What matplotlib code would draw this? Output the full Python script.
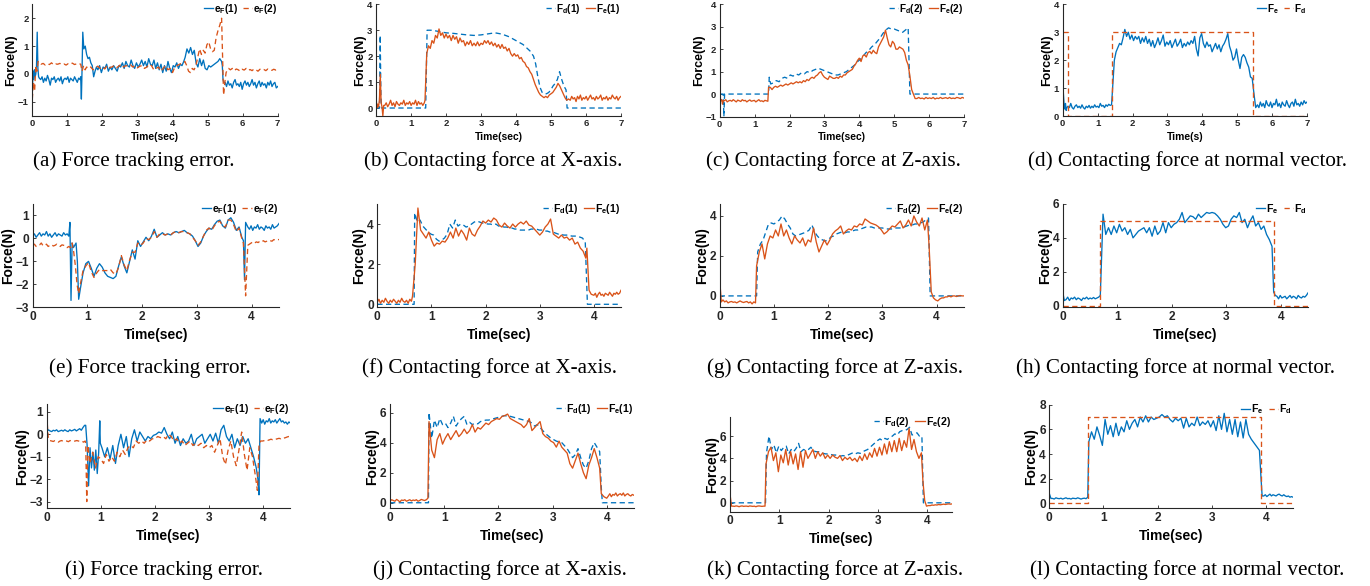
import numpy as np
import matplotlib
matplotlib.use('Agg')
import matplotlib.pyplot as plt

plt.rcParams['font.family'] = ['Liberation Sans', 'DejaVu Sans']
plt.rcParams['mathtext.fontset'] = 'custom'
plt.rcParams['mathtext.rm'] = 'Liberation Sans:bold'
plt.rcParams['mathtext.it'] = 'Liberation Sans:bold'
plt.rcParams['mathtext.bf'] = 'Liberation Sans:bold'

BLUE = '#0072BD'
ORANGE = '#D95319'

# ---------------- data: (t_start, t_end, values) segments ----------------
# (a) force tracking error, trial 1
a_ef1 = [
    (0.00, 0.20, [-0.7, 0.1, -0.2, 0.15, -0.1, 0.0, 0.3, 1.5, 0.2, -0.1, -0.15]),
    (0.24, 1.36, [-0.2, -0.1, -0.3, -0.15, -0.25, -0.05, -0.2, -0.4, -0.15, -0.2, -0.1, -0.3, -0.2, -0.15, -0.25,
                  -0.1, -0.35, -0.2, -0.15, -0.2, -0.1, -0.3, -0.15, -0.2, -0.25, -0.1, -0.2, -0.3, -0.15, -0.2]),
    (1.38, 1.44, [-0.1, -0.9, 0.2, 1.5]),
    (1.47, 1.83, [0.9, 1.0, 0.7, 0.55, 0.6, 0.4, 0.3, -0.1, 0.1, 0.25]),
    (1.87, 4.32, [0.15, 0.3, 0.05, 0.25, 0.2, 0.35, 0.1, 0.25, 0.15, 0.3,
                  0.2, 0.1, 0.3, 0.25, 0.4, 0.2, 0.45, 0.3, 0.25, 0.5,
                  0.3, 0.2, 0.4, 0.25, 0.35, 0.5, 0.3, 0.45, 0.25, 0.55,
                  0.35, 0.3, 0.5, 0.2, 0.4, 0.15, 0.35, 0.05, 0.3, 0.1,
                  0.45, 0.2, 0.05, 0.3, 0.25, 0.4, 0.2, 0.35, 0.3, 0.45]),
    (4.36, 5.40, [0.6, 0.9, 0.75, 0.95, 0.7, 0.85, 0.4, 0.25, 0.55, 0.3, 0.5, 0.2, 0.15, 0.3, 0.25, 0.3, 0.35,
                  0.4, 0.45, 0.55, 0.45]),
    (5.42, 5.46, [0.3, -0.2, -0.3]),
    (5.50, 7.00, [-0.3, -0.45, -0.25, -0.4, -0.35, -0.5, -0.3, -0.2, -0.4, -0.35, -0.45, -0.3, -0.55, -0.35,
                  -0.25, -0.4, -0.3, -0.45, -0.35, -0.2, -0.4, -0.3, -0.5, -0.35, -0.25, -0.45, -0.3, -0.4,
                  -0.35, -0.5, -0.3, -0.4, -0.25, -0.45, -0.35, -0.3, -0.5, -0.45]),
]
a_ef2 = [
    (0.00, 0.20, [-0.9, -0.3, -0.6, 0.3, 0.1, 0.45, 0.4]),
    (0.25, 1.38, [0.35, 0.38, 0.32, 0.36, 0.34, 0.4, 0.33, 0.36, 0.35, 0.38, 0.34, 0.36, 0.32, 0.37, 0.35,
                  0.39, 0.34, 0.36, 0.38, 0.35]),
    (1.42, 1.55, [0.1, 0.3, 0.15, 0.25]),
    (1.60, 4.20, [0.2, 0.25, 0.15, 0.22, 0.28, 0.2, 0.25, 0.18, 0.3, 0.22,
                  0.25, 0.3, 0.22, 0.28, 0.35, 0.25, 0.3, 0.28, 0.33, 0.25,
                  0.3, 0.22, 0.28, 0.3, 0.2, 0.25, 0.35, 0.3, 0.15, 0.2,
                  0.25, 0.1, 0.2, 0.3, 0.15, 0.2, 0.05, 0.25, 0.3, 0.35]),
    (4.30, 5.40, [0.4, 0.45, 0.3, 0.1, 0.05, 0.2, 0.15, 0.3, 0.6, 0.9, 0.7, 0.85, 0.75, 1.05, 1.15, 0.9, 0.8,
                  0.85, 1.3, 1.55, 1.75, 2.0]),
    (5.42, 5.60, [1.0, -0.75, -0.3, 0.05, 0.15, 0.2]),
    (5.65, 7.00, [0.15, 0.2, 0.12, 0.18, 0.15, 0.1, 0.17, 0.14, 0.2, 0.13, 0.16, 0.12, 0.18, 0.15, 0.1, 0.17,
                  0.14, 0.16, 0.12, 0.18, 0.15, 0.13, 0.17, 0.14, 0.15]),
]

# (b) contact force X-axis, trial 1
b_fd1 = [
    (0.00, 0.16, [0, 0, 0, 0, 0, 0, 2.8, 0.5, 0]),
    (0.20, 1.42, [0, 0]),
    (1.46, 1.46, [3.0]),
    (1.60, 4.40, [3.0, 2.95, 2.9, 2.88, 2.85, 2.82, 2.8, 2.82, 2.86, 2.9, 2.85, 2.75, 2.6, 2.45, 2.2]),
    (4.50, 5.43, [2.0, 1.7, 1.2, 0.8, 0.6, 0.55, 0.55, 0.6, 0.7, 0.85, 0.95, 1.1, 1.4, 1.1, 0.85, 0.7]),
    (5.46, 7.00, [0.0, 0.0]),
]
b_fe1 = [
    (0.00, 0.22, [0.45, 0.0, 0.15, 0.05, 0.3, 1.3, 0.2, 0.05, -0.3, 0.1]),
    (0.25, 1.38, [0.1, 0.2, 0.05, 0.15, 0.3, 0.1, 0.2, 0.05, 0.25, 0.15, 0.1, 0.2, 0.15, 0.3, 0.1, 0.2, 0.15,
                  0.25, 0.1, 0.2, 0.15, 0.3, 0.1, 0.25, 0.15, 0.2, 0.1, 0.2]),
    (1.40, 5.50, [0.3, 2.1, 2.4, 2.3, 2.6, 2.5, 2.8, 2.7, 3.05, 2.8, 2.9, 2.7, 2.85, 2.7, 2.8, 2.6, 2.8, 2.65,
                  2.75, 2.5, 2.7, 2.55, 2.6, 2.4, 2.55, 2.45, 2.6, 2.4, 2.5, 2.4, 2.55, 2.4, 2.5, 2.45, 2.6,
                  2.5, 2.6, 2.45, 2.55, 2.4, 2.5, 2.35, 2.45, 2.3, 2.45, 2.3, 2.35, 2.2, 2.3, 2.1, 2.0, 2.1,
                  2.0, 2.05, 1.9, 1.95, 1.8, 1.75, 1.6, 1.55, 1.4, 1.3, 1.1, 0.9, 0.75, 0.6, 0.5, 0.45, 0.4,
                  0.45, 0.4, 0.5, 0.55, 0.6, 0.7, 0.8, 0.95, 0.85, 0.7, 0.55, 0.4, 0.3, 0.35]),
    (5.55, 7.00, [0.3, 0.45, 0.35, 0.4, 0.25, 0.45, 0.35, 0.5, 0.3, 0.4, 0.35, 0.45, 0.3, 0.4, 0.5, 0.35, 0.4,
                  0.3, 0.45, 0.35, 0.4, 0.5, 0.3, 0.4, 0.35, 0.45, 0.3, 0.4, 0.35, 0.5, 0.4, 0.35, 0.45, 0.3,
                  0.4, 0.45]),
]

# (c) contact force Z-axis, trial 1
c_fd2 = [
    (0.00, 0.16, [0, 0, 0, 0, 0, 0, -1.0, 0, 0]),
    (0.20, 1.40, [0, 0]),
    (1.42, 1.42, [0.75]),
    (1.46, 5.40, [0.45, 0.5, 0.6, 0.55, 0.7, 0.75, 0.7, 0.85, 0.8, 0.9, 0.85, 0.95, 0.9, 1.0, 0.95, 1.05, 1.1,
                  1.15, 1.1, 1.05, 1.0, 0.95, 0.9, 0.85, 0.85, 0.9, 0.95, 1.0, 1.1, 1.2, 1.3, 1.45, 1.55, 1.7,
                  1.85, 1.95, 2.1, 2.2, 2.35, 2.5, 2.7, 2.85, 2.95, 2.9, 2.9, 2.85, 2.8, 2.75, 2.85, 2.95]),
    (5.45, 7.00, [0, 0]),
]
c_fe2 = [
    (0.00, 0.10, [0.75, -0.2, -0.3, -0.25, -0.45, -0.3]),
    (0.13, 1.38, [-0.3, -0.25, -0.35, -0.3, -0.28, -0.32, -0.25, -0.3, -0.35, -0.27, -0.3, -0.33, -0.25, -0.3,
                  -0.28, -0.35, -0.3, -0.26, -0.32, -0.3, -0.28, -0.35, -0.3, -0.25, -0.32, -0.3, -0.34,
                  -0.28, -0.3, -0.32]),
    (1.40, 5.60, [0.3, 0.3, 0.2, 0.3, 0.35, 0.3, 0.35, 0.4, 0.35, 0.4, 0.45, 0.4, 0.45, 0.5, 0.45, 0.5, 0.55,
                  0.5, 0.55, 0.5, 0.6, 0.55, 0.65, 0.6, 0.7, 0.75, 0.7, 0.8, 0.85, 0.95, 1.0, 0.85, 0.75, 0.7,
                  0.65, 0.8, 0.75, 0.7, 0.7, 0.75, 0.7, 0.8, 0.75, 0.85, 0.85, 0.95, 1.0, 1.05, 1.1, 1.25,
                  1.35, 1.5, 1.6, 1.45, 1.7, 1.75, 1.65, 1.85, 1.9, 1.8, 1.95, 1.85, 1.8, 2.1, 2.25, 2.4,
                  2.55, 2.85, 2.5, 2.2, 2.1, 2.35, 2.25, 2.0, 2.0, 2.1, 2.05, 2.0, 1.85, 1.5, 1.3, 0.8, 0.2,
                  0.0, -0.2]),
    (5.65, 7.00, [-0.2, -0.15, -0.2, -0.18, -0.22, -0.15, -0.2, -0.17, -0.2, -0.15, -0.22, -0.18, -0.2,
                  -0.15, -0.2, -0.18, -0.16, -0.2, -0.15, -0.2, -0.18, -0.2, -0.15, -0.17, -0.2, -0.15,
                  -0.18]),
]

# (d) contact force normal vector, trial 1
d_fe = [
    (0.00, 0.12, [1.2, 0.8, 0.4, 0.25, 0.45, 0.2, 0.3]),
    (0.15, 1.40, [0.35, 0.3, 0.45, 0.3, 0.25, 0.35, 0.4, 0.3, 0.35, 0.28, 0.4, 0.3, 0.25, 0.35, 0.3, 0.38,
                  0.28, 0.35, 0.3, 0.4, 0.32, 0.35, 0.3, 0.45, 0.35, 0.38, 0.3, 0.4, 0.35, 0.42, 0.38, 0.4]),
    (1.43, 5.53, [1.0, 2.0, 2.3, 2.45, 2.6, 2.55, 2.8, 3.1, 2.85, 3.0, 2.75, 2.9, 2.7, 2.85, 2.75, 2.85, 2.6,
                  2.8, 2.65, 2.85, 2.6, 2.75, 2.5, 2.7, 2.45, 2.6, 2.8, 2.55, 2.7, 2.9, 2.5, 2.65, 2.55, 2.7,
                  2.45, 2.6, 2.75, 2.5, 2.6, 2.75, 2.45, 2.6, 2.5, 2.65, 2.55, 2.7, 2.6, 2.85, 2.4, 2.15,
                  2.8, 2.95, 2.6, 2.45, 2.65, 2.5, 2.55, 2.3, 2.45, 2.6, 2.4, 2.55, 2.3, 2.5, 2.6, 2.75,
                  2.95, 2.5, 2.3, 2.0, 2.1, 2.4, 2.0, 1.7, 2.1, 2.2, 2.1, 1.9, 1.75, 1.4, 1.35, 0.8, 0.3]),
    (5.58, 7.00, [0.4, 0.3, 0.5, 0.35, 0.45, 0.3, 0.55, 0.4, 0.35, 0.5, 0.3, 0.45, 0.4, 0.6, 0.35, 0.45, 0.3,
                  0.5, 0.4, 0.35, 0.55, 0.4, 0.3, 0.45, 0.5, 0.35, 0.6, 0.4, 0.45, 0.35, 0.5, 0.4, 0.55, 0.45,
                  0.5]),
]
d_fd = [(0.00, 0.14, [3, 3]), (0.14, 1.42, [0, 0]), (1.42, 5.45, [3, 3]), (5.45, 7.00, [0, 0])]

# (e) force tracking error, trial 2
e_ef1 = [
    (0.00, 0.66, [0.1, 0.2, 0.05, 0.15, 0.25, 0.1, 0.2, 0.15, 0.3, 0.1, 0.2, 0.05, 0.15, 0.25, 0.1, 0.2, 0.15,
                  0.1, 0.25, 0.15, 0.2, 0.1]),
    (0.68, 0.70, [0.7, -2.7]),
    (0.72, 0.84, [-0.2, -0.4, -0.3, -0.2, -1.0, -2.65]),
    (0.87, 3.82, [-2.2, -1.5, -1.1, -1.0, -1.3, -1.65, -1.3, -1.1, -1.25, -1.5, -1.65, -1.7, -1.75, -1.65,
                  -1.2, -0.8, -1.2, -1.5, -1.0, -0.5, -0.9, -0.1, -0.35, -0.15, 0.05, -0.1, 0.1, 0.4, 0.05,
                  0.15, 0.25, 0.15, 0.2, 0.15, 0.25, 0.3, 0.25, 0.3, 0.35, 0.25, 0.2, 0.1, -0.1, -0.35, -0.2,
                  0.1, 0.3, 0.45, 0.4, 0.6, 0.75, 0.8, 0.55, 0.45, 0.8, 0.9, 0.7, 0.35, 0.5, 0.05]),
    (3.85, 3.89, [-0.1, -1.8, 0.7]),
    (3.93, 4.50, [0.5, 0.4, 0.55, 0.35, 0.5, 0.45, 0.6, 0.4, 0.5, 0.45, 0.35, 0.55, 0.45, 0.5, 0.4, 0.6, 0.45,
                  0.5, 0.55, 0.65]),
]
e_ef2 = [
    (0.00, 0.66, [-0.3, -0.25, -0.35, -0.3, -0.28, -0.2, -0.32, -0.3, -0.25, -0.35, -0.3, -0.27, -0.33, -0.3,
                  -0.25, -0.3, -0.35, -0.28, -0.3, -0.32, -0.4, -0.35]),
    (0.69, 0.87, [-0.4, -0.2, -0.6, -1.2, -2.0, -2.4, -2.0]),
    (0.92, 3.82, [-1.4, -1.2, -1.05, -1.45, -1.7, -1.5, -1.35, -1.4, -1.4, -1.4, -1.35, -1.5, -1.55, -1.25,
                  -0.75, -1.15, -1.4, -0.95, -0.6, -0.6, -0.2, -0.3, -0.2, 0.0, -0.05, 0.05, 0.3, 0.05, 0.2,
                  0.2, 0.15, 0.2, 0.15, 0.25, 0.3, 0.25, 0.3, 0.3, 0.25, 0.2, 0.05, -0.1, -0.3, -0.15, 0.1,
                  0.35, 0.45, 0.35, 0.55, 0.7, 0.75, 0.55, 0.5, 0.8, 0.8, 0.6, 0.3, 0.45, 0.0]),
    (3.85, 3.93, [-0.2, -2.5, -0.3]),
    (3.96, 4.50, [-0.25, -0.2, -0.15, -0.2, -0.15, -0.18, -0.12, -0.15, -0.1, -0.15, -0.12, -0.08, -0.1,
                  -0.12, -0.05, -0.08, -0.05, -0.05]),
]

# (f) contact force X-axis, trial 2
f_fd1 = [
    (0.00, 0.68, [0, 0]),
    (0.69, 3.84, [4.55, 4.1, 4.2, 3.9, 3.75, 3.6, 3.5, 3.45, 3.25, 3.15, 3.2, 3.3, 3.5, 4.0, 3.8, 4.2, 3.9, 4.0,
                  3.95, 3.85, 3.9, 4.0, 4.1, 4.15, 4.1, 4.05, 4.05, 4.0, 4.0, 3.95, 4.0, 3.9, 3.9, 3.85, 3.85,
                  3.8, 3.8, 3.75, 3.75, 3.7, 3.7, 3.7, 3.7, 3.75, 3.75, 3.75, 3.7, 3.7, 3.65, 3.65, 3.6, 3.6,
                  3.55, 3.5, 3.5, 3.45, 3.45, 3.45, 3.4, 3.4, 3.4, 3.35, 3.3, 3.1]),
    (3.88, 4.50, [0, 0]),
]
f_fe1 = [
    (0.00, 0.63, [0.1, 0.25, 0.05, 0.2, 0.1, 0.3, 0.15, 0.05, 0.2, 0.1, 0.25, 0.15, 0.05, 0.2, 0.1, 0.3, 0.15,
                  0.1, 0.2, 0.05, 0.25, 0.15]),
    (0.65, 3.85, [0.4, 2.0, 4.8, 3.7, 3.5, 3.3, 3.6, 3.2, 2.9, 3.05, 3.0, 3.15, 3.1, 3.3, 3.6, 3.3, 3.8, 3.4,
                  3.7, 3.5, 3.2, 3.8, 3.5, 3.4, 3.7, 3.9, 4.15, 4.05, 4.2, 4.1, 4.3, 4.2, 3.95, 3.85, 4.05,
                  3.9, 3.8, 4.0, 3.85, 4.0, 4.1, 4.0, 4.15, 3.95, 3.9, 3.75, 3.6, 3.45, 3.6, 3.85, 4.0, 4.25,
                  3.5, 3.4, 3.3, 3.45, 3.3, 3.35, 3.2, 3.3, 3.0, 3.1, 2.8, 2.65, 2.3]),
    (3.87, 3.95, [2.8, 0.7, 0.5]),
    (4.00, 4.50, [0.45, 0.55, 0.35, 0.5, 0.6, 0.45, 0.5, 0.4, 0.55, 0.5, 0.45, 0.6, 0.5, 0.4, 0.55, 0.5, 0.6,
                  0.5, 0.55, 0.7]),
]

# (g) contact force Z-axis, trial 2
g_fd2 = [
    (0.00, 0.68, [0, 0]),
    (0.70, 3.85, [2.2, 2.6, 2.8, 3.2, 3.6, 3.65, 3.6, 3.7, 3.8, 4.0, 3.85, 3.6, 3.4, 3.1, 3.0, 3.05, 3.1, 3.15,
                  3.2, 3.3, 3.55, 3.2, 3.0, 2.85, 2.8, 2.75, 2.8, 2.95, 3.0, 3.1, 3.15, 3.2, 3.15, 3.2, 3.2,
                  3.25, 3.3, 3.3, 3.35, 3.4, 3.45, 3.45, 3.45, 3.4, 3.4, 3.4, 3.4, 3.35, 3.35, 3.35, 3.35,
                  3.4, 3.4, 3.4, 3.45, 3.5, 3.55, 3.55, 3.6, 3.6, 3.65, 3.7, 3.8, 3.9]),
    (3.88, 4.50, [0, 0]),
]
g_fe2 = [
    (0.00, 0.03, [0.8, -0.3]),
    (0.06, 0.66, [-0.2, -0.3, -0.25, -0.35, -0.3, -0.28, -0.32, -0.3, -0.35, -0.3, -0.25, -0.3, -0.33, -0.3,
                  -0.28, -0.35, -0.3, -0.4, -0.3, -0.35]),
    (0.68, 3.83, [1.5, 2.2, 2.6, 1.85, 2.6, 3.0, 2.9, 3.3, 3.0, 3.6, 3.0, 3.3, 2.9, 2.6, 3.0, 2.8, 2.65, 2.9,
                  2.5, 2.8, 2.7, 3.4, 2.7, 2.2, 2.5, 2.8, 2.55, 2.8, 3.1, 3.25, 3.35, 3.5, 3.1, 3.25, 3.35,
                  3.3, 3.5, 3.45, 3.6, 3.55, 3.85, 3.75, 3.65, 3.6, 3.55, 3.45, 3.3, 3.1, 3.2, 3.35, 3.5,
                  3.45, 3.6, 3.75, 3.4, 3.55, 3.8, 3.5, 4.0, 3.7, 3.5, 3.9, 3.3, 3.8]),
    (3.86, 4.02, [2.5, 0.2, -0.1, -0.2, -0.25]),
    (4.06, 4.50, [-0.15, -0.1, -0.1, -0.05, -0.05, 0.0, -0.05, 0.0, 0.0, -0.03, 0.0, 0.02, 0.0, 0.0]),
]

# (h) contact force normal vector, trial 2
h_fe = [
    (0.00, 0.03, [0.8, 0.3]),
    (0.06, 0.66, [0.35, 0.5, 0.3, 0.45, 0.4, 0.5, 0.35, 0.45, 0.4, 0.3, 0.45, 0.4, 0.5, 0.38, 0.45, 0.4, 0.48,
                  0.4, 0.45, 0.5]),
    (0.69, 3.84, [0.6, 5.4, 4.2, 4.6, 4.2, 4.7, 4.3, 4.8, 4.4, 4.6, 4.2, 4.5, 4.0, 4.2, 4.4, 4.5, 4.6, 4.3,
                  4.6, 4.1, 4.7, 4.2, 4.4, 4.9, 4.3, 4.9, 4.6, 4.8, 4.9, 5.1, 5.5, 4.9, 5.1, 5.3, 5.25, 5.1,
                  5.4, 5.2, 5.35, 5.5, 5.45, 5.5, 5.45, 5.3, 5.1, 4.8, 4.6, 4.7, 5.1, 5.3, 5.2, 5.5, 4.9,
                  5.1, 4.6, 5.0, 5.3, 4.7, 4.9, 4.5, 4.7, 4.2, 3.9, 3.5]),
    (3.87, 3.90, [0.8, 0.6]),
    (3.93, 4.50, [0.55, 0.4, 0.6, 0.45, 0.5, 0.55, 0.4, 0.5, 0.6, 0.45, 0.55, 0.5, 0.4, 0.6, 0.5, 0.45, 0.55,
                  0.5, 0.6, 0.75]),
]
h_fd = [(0.00, 0.68, [0, 0]), (0.68, 3.88, [5, 5]), (3.88, 4.50, [0, 0])]

# (i) force tracking error, trial 3
i_ef1 = [
    (0.00, 0.70, [0.1, 0.2, 0.15, 0.12, 0.18, 0.15, 0.2, 0.12, 0.15, 0.18, 0.14, 0.2, 0.15, 0.12, 0.2, 0.15,
                  0.18, 0.22, 0.15, 0.2, 0.25, 0.18, 0.3, 0.4]),
    (0.72, 0.96, [0.4, -0.5, -2.3, -0.6, -1.5, -0.8, -1.6, -0.7, -1.75, -0.8]),
    (0.98, 0.99, [0.6, -0.4]),
    (1.02, 3.87, [-0.6, -1.0, -0.6, -1.1, -0.5, -1.3, -0.5, 0.0, -0.6, -0.1, -1.0, -0.2, 0.2, -0.3, 0.1, -0.1,
                  -0.3, -0.1, -0.2, -0.05, 0.0, 0.1, 0.05, 0.3, 0.0, -0.2, 0.1, -0.4, -0.1, -0.5, -0.2, -0.4,
                  -0.3, 0.0, -0.5, -0.2, -0.1, 0.0, -0.4, -0.2, 0.0, -0.3, 0.05, -0.4, 0.2, 0.4, -0.1, -0.3,
                  0.0, -0.6, -0.2, -0.5, -0.1, -0.4, -0.2, -0.6, -1.0, -1.5]),
    (3.90, 3.94, [-2.0, -2.7, 0.7]),
    (3.97, 4.50, [0.5, 0.65, 0.45, 0.6, 0.55, 0.7, 0.5, 0.6, 0.55, 0.65, 0.5, 0.6, 0.7, 0.55, 0.6, 0.5, 0.55,
                  0.45, 0.55, 0.5]),
]
i_ef2 = [
    (0.00, 0.03, [0.85, -0.2]),
    (0.06, 0.71, [-0.28, -0.3, -0.32, -0.28, -0.3, -0.35, -0.3, -0.28, -0.32, -0.3, -0.3, -0.33, -0.28, -0.3,
                  -0.32, -0.3, -0.28, -0.3, -0.32, -0.3, -0.35, -0.3]),
    (0.72, 0.76, [-0.4, -3.0, -0.5]),
    (0.80, 3.85, [-1.3, -0.8, -1.5, -1.0, -1.1, -1.3, -0.9, -1.2, -1.0, -1.2, -0.8, -1.0, -0.7, -0.9, -0.6,
                  -0.5, -0.6, -0.3, -0.4, -0.3, -0.4, -0.25, -0.3, -0.2, -0.2, -0.1, -0.15, -0.1, -0.2, 0.0,
                  -0.1, -0.3, -0.2, -0.4, -0.3, -0.5, -0.4, -0.3, -0.5, -0.4, -0.5, -0.4, -0.6, -0.5, -0.6,
                  -0.5, -0.8, -0.5, -0.2, -1.0, -1.35, -0.7, -0.3, -1.0, -1.4, -0.7, 0.1, -0.9, -1.6, -0.6,
                  -1.0, -1.8]),
    (3.89, 3.95, [-2.5, -0.5, -0.3]),
    (3.99, 4.50, [-0.3, -0.28, -0.25, -0.27, -0.25, -0.22, -0.24, -0.2, -0.22, -0.2, -0.18, -0.2, -0.15,
                  -0.17, -0.15, -0.12, -0.1, -0.1]),
]

# (j) contact force X-axis, trial 3
j_fd1 = [
    (0.00, 0.71, [0, 0]),
    (0.72, 3.87, [6.0, 4.3, 5.5, 5.0, 5.6, 5.2, 5.3, 5.0, 5.3, 5.75, 5.1, 5.4, 5.6, 5.75, 5.2, 5.35, 5.2, 5.3,
                  5.25, 5.4, 5.45, 5.5, 5.5, 5.55, 5.6, 5.65, 5.7, 5.75, 5.8, 5.75, 5.75, 5.7, 5.65, 5.6,
                  5.55, 5.5, 5.45, 5.4, 5.3, 5.1, 5.2, 5.0, 4.8, 4.6, 4.45, 4.3, 4.2, 4.1, 4.05, 4.0, 3.8,
                  3.6, 3.3, 3.0, 3.2, 3.6, 3.0, 2.5, 2.3, 2.8, 3.6, 4.0, 3.7, 3.4]),
    (3.90, 3.92, [1.0, 0.0]),
    (3.95, 4.50, [0, 0]),
]
j_fe1 = [
    (0.00, 0.70, [0.1, 0.2, 0.15, 0.1, 0.22, 0.15, 0.05, 0.18, 0.15, 0.2, 0.1, 0.15, 0.2, 0.12, 0.18, 0.15,
                  0.2, 0.1, 0.15, 0.22, 0.18, 0.15, 0.2, 0.3]),
    (0.72, 3.87, [5.4, 3.5, 3.0, 4.2, 4.6, 3.9, 4.3, 4.6, 4.2, 4.5, 4.8, 4.4, 4.6, 4.9, 4.6, 4.8, 5.2, 4.7,
                  5.0, 4.9, 5.1, 5.3, 5.2, 5.4, 5.5, 5.6, 5.55, 5.75, 5.8, 5.9, 5.6, 5.5, 5.4, 5.3, 5.2,
                  5.0, 5.2, 5.6, 4.8, 5.0, 5.2, 5.4, 4.6, 4.4, 4.3, 4.1, 4.0, 3.7, 4.1, 3.7, 3.5, 3.3, 2.6,
                  2.3, 2.8, 3.3, 2.6, 2.0, 1.6, 2.5, 3.0, 3.6, 3.0, 2.3]),
    (3.90, 4.00, [0.6, 0.4, 0.3]),
    (4.03, 4.50, [0.45, 0.6, 0.4, 0.55, 0.5, 0.65, 0.45, 0.55, 0.6, 0.5, 0.65, 0.45, 0.55, 0.6, 0.5, 0.45,
                  0.55, 0.5]),
]

# (k) contact force Z-axis, trial 3
k_fd2 = [
    (0.00, 0.72, [0, 0]),
    (0.74, 3.89, [4.5, 6.0, 4.8, 5.2, 4.5, 5.1, 4.7, 5.0, 5.1, 4.4, 4.8, 4.6, 4.9, 5.35, 4.6, 4.8, 4.7, 4.8,
                  5.0, 4.7, 4.6, 4.6, 4.5, 4.45, 4.4, 4.4, 4.35, 4.3, 4.3, 4.25, 4.2, 4.25, 4.2, 4.3, 4.4,
                  4.5, 4.4, 4.5, 4.45, 4.6, 4.7, 4.8, 5.0, 5.2, 5.4, 5.6, 5.75, 5.6, 5.8, 5.7, 5.9, 6.0, 6.2,
                  6.1, 6.4, 6.5, 6.5, 6.6, 6.8, 6.1, 6.2, 6.3, 6.0, 6.0]),
    (3.92, 4.50, [0, 0]),
]
k_fe2 = [
    (0.00, 0.03, [0.8, -0.3]),
    (0.06, 0.71, [-0.3, -0.32, -0.28, -0.3, -0.35, -0.3, -0.28, -0.32, -0.3, -0.3, -0.33, -0.28, -0.3, -0.32,
                  -0.3, -0.35, -0.3, -0.28, -0.3, -0.32, -0.3, -0.3]),
    (0.73, 3.88, [3.5, 4.6, 5.0, 3.8, 4.5, 2.8, 4.3, 3.6, 4.8, 3.4, 4.6, 3.5, 4.4, 3.0, 4.6, 3.2, 4.7, 4.0,
                  4.4, 4.8, 4.0, 4.6, 4.2, 4.5, 4.0, 4.3, 4.0, 4.3, 4.1, 4.0, 4.25, 3.8, 4.1, 3.9, 4.1, 3.8,
                  4.0, 3.7, 4.2, 3.8, 4.4, 3.9, 4.5, 4.1, 4.9, 4.2, 5.0, 4.3, 5.3, 4.4, 5.5, 4.6, 5.6, 4.6,
                  5.8, 4.7, 5.6, 5.0, 6.7, 4.8, 5.7, 4.6, 4.0, 4.5]),
    (3.91, 4.02, [2.0, 0.2, -0.3, -0.25]),
    (4.06, 4.50, [-0.25, -0.2, -0.22, -0.18, -0.2, -0.15, -0.18, -0.15, -0.12, -0.15, -0.12, -0.1, -0.12,
                  -0.1]),
]

# (l) contact force normal vector, trial 3
l_fe = [
    (0.00, 0.03, [0.8, 0.4]),
    (0.06, 0.71, [0.4, 0.35, 0.45, 0.4, 0.38, 0.42, 0.35, 0.4, 0.45, 0.38, 0.4, 0.35, 0.42, 0.4, 0.38, 0.45,
                  0.4, 0.35, 0.4, 0.42, 0.38, 0.5]),
    (0.73, 3.88, [5.0, 5.8, 5.2, 6.2, 5.5, 4.7, 6.8, 5.6, 6.3, 5.4, 6.5, 5.5, 6.2, 5.8, 6.7, 6.0, 6.5, 6.8,
                  6.2, 7.0, 6.6, 7.1, 6.6, 7.0, 6.8, 6.9, 7.0, 7.2, 7.0, 7.1, 6.8, 6.6, 6.9, 6.7, 6.9, 6.1,
                  6.9, 6.2, 6.5, 6.3, 7.0, 6.3, 6.6, 6.4, 6.7, 6.2, 6.7, 5.9, 7.1, 6.0, 7.3, 5.8, 6.8, 5.6,
                  6.8, 5.4, 6.6, 5.3, 6.8, 5.6, 5.2, 4.9, 4.6, 4.3]),
    (3.91, 3.93, [2.0, 0.6]),
    (3.96, 4.50, [0.6, 0.7, 0.55, 0.65, 0.75, 0.6, 0.7, 0.65, 0.6, 0.7, 0.75, 0.65, 0.6, 0.7, 0.6, 0.55, 0.6,
                  0.5, 0.55, 0.5]),
]
l_fd = [(0.00, 0.72, [0, 0]), (0.72, 3.90, [7, 7]), (3.90, 4.50, [0, 0])]

# labels
LBL_EF1 = r'e$_\mathrm{F}$(1)'
LBL_EF2 = r'e$_\mathrm{F}$(2)'
LBL_FD1 = r'F$_\mathrm{d}$(1)'
LBL_FE1 = r'F$_\mathrm{e}$(1)'
LBL_FD2 = r'F$_\mathrm{d}$(2)'
LBL_FE2 = r'F$_\mathrm{e}$(2)'
LBL_FE = r'F$_\mathrm{e}$'
LBL_FD = r'F$_\mathrm{d}$'

captions = ['(a) Force tracking error.', '(b) Contacting force at X-axis.', '(c) Contacting force at Z-axis.',
            '(d) Contacting force at normal vector.',
            '(e) Force tracking error.', '(f) Contacting force at X-axis.', '(g) Contacting force at Z-axis.',
            '(h) Contacting force at normal vector.',
            '(i) Force tracking error.', '(j) Contacting force at X-axis.', '(k) Contacting force at Z-axis.',
            '(l) Contacting force at normal vector.']
caption_x = [134, 493, 833, 1187, 150, 489, 835, 1176, 164, 500, 835, 1187]
caption_y = [161, 161, 161, 161, 368, 368, 368, 368, 570, 570, 570, 570]


def series(segs):
    t = np.concatenate([np.linspace(a, b, len(v)) for a, b, v in segs])
    y = np.concatenate([np.asarray(v, float) for a, b, v in segs])
    return t, y


W, H = 1370, 586
fig = plt.figure(figsize=(W / 100, H / 100), dpi=100)

# pixel boxes: x0, x1, ytop, ybottom
boxes = [(32.3, 277.7, 4.3, 115.8), (376, 621, 4.3, 115.8), (719.7, 964, 4.3, 116.5), (1062.7, 1307, 4.3, 116),
         (32.7, 279, 204, 307.3), (377.3, 621, 204, 307.3), (719.7, 963.8, 204, 307.3), (1062.7, 1308, 204, 307.3),
         (46.7, 290.4, 404, 508.3), (390, 633.8, 404, 508.3), (730, 952, 416.7, 511.7), (1049.3, 1293, 404.7, 508.3)]

panels = [
    ([(a_ef1, BLUE, '-', LBL_EF1), (a_ef2, ORANGE, '--', LBL_EF2)], 7, (-1.5, 2.5), [-1, 0, 1, 2], 'Time(sec)'),
    ([(b_fd1, BLUE, '--', LBL_FD1), (b_fe1, ORANGE, '-', LBL_FE1)], 7, (-0.3, 4), [0, 1, 2, 3, 4], 'Time(sec)'),
    ([(c_fd2, BLUE, '--', LBL_FD2), (c_fe2, ORANGE, '-', LBL_FE2)], 7, (-1, 4), [-1, 0, 1, 2, 3, 4], 'Time(sec)'),
    ([(d_fe, BLUE, '-', LBL_FE), (d_fd, ORANGE, '--', LBL_FD)], 7, (0, 4), [0, 1, 2, 3, 4], 'Time(s)'),
    ([(e_ef1, BLUE, '-', LBL_EF1), (e_ef2, ORANGE, '--', LBL_EF2)], 4.5, (-3, 1.5), [-3, -2, -1, 0, 1], 'Time(sec)'),
    ([(f_fd1, BLUE, '--', LBL_FD1), (f_fe1, ORANGE, '-', LBL_FE1)], 4.5, (-0.15, 5), [0, 2, 4], 'Time(sec)'),
    ([(g_fd2, BLUE, '--', LBL_FD2), (g_fe2, ORANGE, '-', LBL_FE2)], 4.5, (-0.57, 4.6), [0, 2, 4], 'Time(sec)'),
    ([(h_fe, BLUE, '-', LBL_FE), (h_fd, ORANGE, '--', LBL_FD)], 4.5, (-0.1, 6), [0, 2, 4, 6], 'Time(sec)'),
    ([(i_ef1, BLUE, '-', LBL_EF1), (i_ef2, ORANGE, '--', LBL_EF2)], 4.5, (-3.3, 1.35), [-3, -2, -1, 0, 1], 'Time(sec)'),
    ([(j_fd1, BLUE, '--', LBL_FD1), (j_fe1, ORANGE, '-', LBL_FE1)], 4.5, (-0.37, 6.57), [0, 2, 4, 6], 'Time(sec)'),
    ([(k_fd2, BLUE, '--', LBL_FD2), (k_fe2, ORANGE, '-', LBL_FE2)], 4.5, (-0.8, 7.75), [0, 2, 4, 6], 'Time(sec)'),
    ([(l_fe, BLUE, '-', LBL_FE), (l_fd, ORANGE, '--', LBL_FD)], 4.5, (-0.4, 8), [0, 2, 4, 6, 8], 'Time(sec)'),
]

for idx, (box, (lines, xmax, ylim, yticks, xlabel)) in enumerate(zip(boxes, panels)):
    x0, x1, yt, yb = box
    ax = fig.add_axes([x0 / W, 1 - yb / H, (x1 - x0) / W, (yb - yt) / H])
    row = idx // 4
    tick_fs = 6.8 if row == 0 else 8.6
    xlab_fs = 7.4 if row == 0 else 10
    ylab_fs = 9.0 if row == 0 else 10
    leg_fs = 7.2 if row == 0 else 7.6
    for segs, col, ls, lab in lines:
        t, y = series(segs)
        if ls == '--':
            ax.plot(t, y, color=col, lw=0.95, dashes=(4.0, 2.6), label=lab)
        else:
            ax.plot(t, y, color=col, lw=0.95, label=lab)
    ax.set_xlim(0, xmax)
    ax.set_ylim(*ylim)
    ax.set_xticks(range(0, int(xmax) + 1))
    ax.set_yticks(yticks)
    for s in ('top', 'right'):
        ax.spines[s].set_visible(False)
    for s in ('left', 'bottom'):
        ax.spines[s].set_color('#262626')
        ax.spines[s].set_linewidth(0.8)
    ax.tick_params(direction='in', length=2.5, width=0.6, colors='#262626', labelsize=tick_fs, pad=2.5)
    for lb in ax.get_xticklabels() + ax.get_yticklabels():
        lb.set_fontweight('bold')
    ax.set_xlabel(xlabel, fontsize=xlab_fs, fontweight='bold', labelpad=2.5 if row == 0 else 3.5)
    ax.set_ylabel('Force(N)', fontsize=ylab_fs, fontweight='bold', labelpad=0.5)
    leg = ax.legend(loc='upper right', bbox_to_anchor=(1.0, 1.03), ncol=2, frameon=False,
                    prop={'weight': 'bold', 'size': leg_fs}, handlelength=0.9, handletextpad=0.1,
                    columnspacing=0.5, borderaxespad=0.0, borderpad=0.1)
    fig.text(caption_x[idx] / W, 1 - caption_y[idx] / H, captions[idx], ha='center', va='center',
             fontsize=15.2, family='Liberation Serif')

fig.savefig('out.png', dpi=100)
